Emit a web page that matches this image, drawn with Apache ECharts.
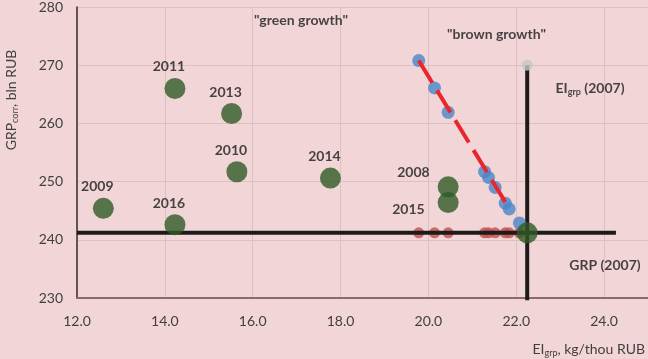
<!DOCTYPE html>
<html>
<head>
<meta charset="utf-8">
<script src="https://cdn.jsdelivr.net/npm/echarts@6/dist/echarts.min.js"></script>
<style>
  html, body { margin: 0; padding: 0; background: #f2d5d7; }
  #chart { width: 648px; height: 359px; }
</style>
</head>
<body>
<div id="chart"></div>
<script>
// green points: year, EI_grp, GRP_corr
const greenYears = ['2007', '2008', '2009', '2010', '2011', '2013', '2014', '2015', '2016']
const greenEI = [22.25, 20.45, 12.6, 15.64, 14.23, 15.52, 17.77, 20.45, 14.23]
const greenGRP = [241.2, 249.1, 245.4, 251.7, 266.0, 261.7, 250.6, 246.4, 242.6]

// blue points (brown growth path) and their projections onto GRP(2007)
const blueEI = [19.78, 20.14, 20.45, 21.28, 21.37, 21.52, 21.75, 21.84, 22.07]
const blueGRP = [270.8, 266.1, 261.9, 251.7, 250.7, 249.0, 246.3, 245.3, 242.9]

// reference levels
const ei2007 = 22.25
const grp2007 = 241.2
const eiTop = 270.0

// red dashed trend
const trendEI = [19.78, 21.79]
const trendGRP = [270.8, 246.0]

// annotations
const noteText = ['"green growth"', '"brown growth"', '{b|EI}{s|grp}{b| (2007)}', '{b|GRP (2007)}']
const noteEI = [17.1, 21.55, 23.68, 24.02]
const noteGRP = [277.6, 275.2, 266.0, 235.6]

const xTicks = { min: 12, max: 25, interval: 2 }
const yTicks = { min: 230, max: 280, interval: 10 }

const font = 'Lato, "Open Sans", sans-serif'
const chart = echarts.init(document.getElementById('chart'))

const labelPos = {
  '2008': { position: 'left', distance: 8, offset: [0, -14] },
  '2015': { position: 'left', distance: 13, offset: [0, 7] }
}

const option = {
  backgroundColor: '#f2d5d7',
  animation: false,
  grid: { left: 77, right: 0, top: 5, bottom: 61 },
  xAxis: {
    type: 'value',
    min: xTicks.min,
    max: xTicks.max,
    interval: xTicks.interval,
    name: '{n|EI}{s|grp}{n|, kg/thou RUB}',
    nameLocation: 'end',
    nameGap: -3,
    nameTextStyle: {
      align: 'right',
      verticalAlign: 'top',
      padding: [43, 0, 0, 0],
      rich: {
        n: { fontFamily: font, fontSize: 14, color: '#404040' },
        s: { fontFamily: font, fontSize: 9, color: '#404040', padding: [8, 0, 0, 0] }
      }
    },
    axisLine: { show: true, lineStyle: { color: '#8a6a6a', width: 2 } },
    axisTick: { show: false },
    axisLabel: {
      color: '#404040',
      fontFamily: font,
      fontSize: 14,
      margin: 16,
      showMaxLabel: false,
      formatter: (v) => v.toFixed(1)
    },
    splitLine: { show: true, lineStyle: { color: '#dcc0c3', width: 1 } }
  },
  yAxis: {
    type: 'value',
    min: yTicks.min,
    max: yTicks.max,
    interval: yTicks.interval,
    axisLine: { show: true, lineStyle: { color: '#3a2a2a', width: 1.5 } },
    axisTick: { show: false },
    axisLabel: { color: '#404040', fontFamily: font, fontSize: 14, margin: 14 },
    splitLine: { show: true, lineStyle: { color: '#dcc0c3', width: 1 } }
  },
  graphic: [
    {
      type: 'text',
      x: 11,
      y: 100,
      rotation: Math.PI / 2,
      style: {
        text: '{n|GRP}{s|corr}{n|, bln RUB}',
        align: 'center',
        verticalAlign: 'middle',
        rich: {
          n: { fontFamily: font, fontSize: 14, fill: '#404040' },
          s: { fontFamily: font, fontSize: 9, fill: '#404040', padding: [8, 0, 0, 0] }
        }
      }
    }
  ],
  series: [
    {
      name: 'projection',
      type: 'scatter',
      z: 2,
      symbolSize: 11,
      itemStyle: { color: '#c0504d' },
      data: blueEI.map((x) => [x, grp2007])
    },
    {
      name: 'GRP 2007',
      type: 'line',
      z: 3,
      clip: false,
      symbol: 'none',
      lineStyle: { color: '#1e1a1a', width: 4 },
      data: [[xTicks.min, grp2007], [24.27, grp2007]]
    },
    {
      name: 'EI 2007',
      type: 'line',
      z: 3,
      clip: false,
      symbol: 'none',
      lineStyle: { color: '#1e1a1a', width: 4 },
      data: [[ei2007, eiTop], [ei2007, 229.6]]
    },
    {
      name: 'brown',
      type: 'scatter',
      z: 4,
      symbolSize: 13,
      itemStyle: { color: '#4a86c8' },
      data: blueEI.map((x, i) => [x, blueGRP[i]])
    },
    {
      name: 'trend',
      type: 'line',
      z: 5,
      symbol: 'none',
      lineStyle: { color: '#e8262b', width: 4, type: [26, 9] },
      data: trendEI.map((x, i) => [x, trendGRP[i]])
    },
    {
      name: 'top',
      type: 'scatter',
      z: 5,
      symbolSize: 11,
      itemStyle: { color: '#c6c6c6' },
      data: [[ei2007, eiTop]]
    },
    {
      name: 'green',
      type: 'scatter',
      z: 6,
      symbolSize: 21,
      itemStyle: { color: '#2e5a25' },
      data: greenYears.map((y, i) => {
        const item = { name: y, value: [greenEI[i], greenGRP[i]] }
        if (y === '2007') item.label = { show: false }
        if (labelPos[y]) item.label = labelPos[y]
        return item
      }),
      label: {
        show: true,
        position: 'top',
        distance: 4,
        offset: [-6, 0],
        formatter: (p) => p.name,
        color: '#1a1a1a',
        fontFamily: font,
        fontWeight: 'bold',
        fontSize: 14
      }
    },
    {
      name: 'notes',
      type: 'scatter',
      z: 7,
      symbolSize: 0,
      silent: true,
      data: noteText.map((t, i) => ({ name: t, value: [noteEI[i], noteGRP[i]] })),
      label: {
        show: true,
        position: 'inside',
        formatter: (p) => p.name,
        color: '#1a1a1a',
        fontFamily: font,
        fontWeight: 'bold',
        fontSize: 14,
        rich: {
          b: { fontFamily: font, fontWeight: 'bold', fontSize: 14, color: '#1a1a1a' },
          s: { fontFamily: font, fontWeight: 'bold', fontSize: 9, color: '#1a1a1a', padding: [8, 0, 0, 0] }
        }
      }
    }
  ]
}

chart.setOption(option)
</script>
</body>
</html>
